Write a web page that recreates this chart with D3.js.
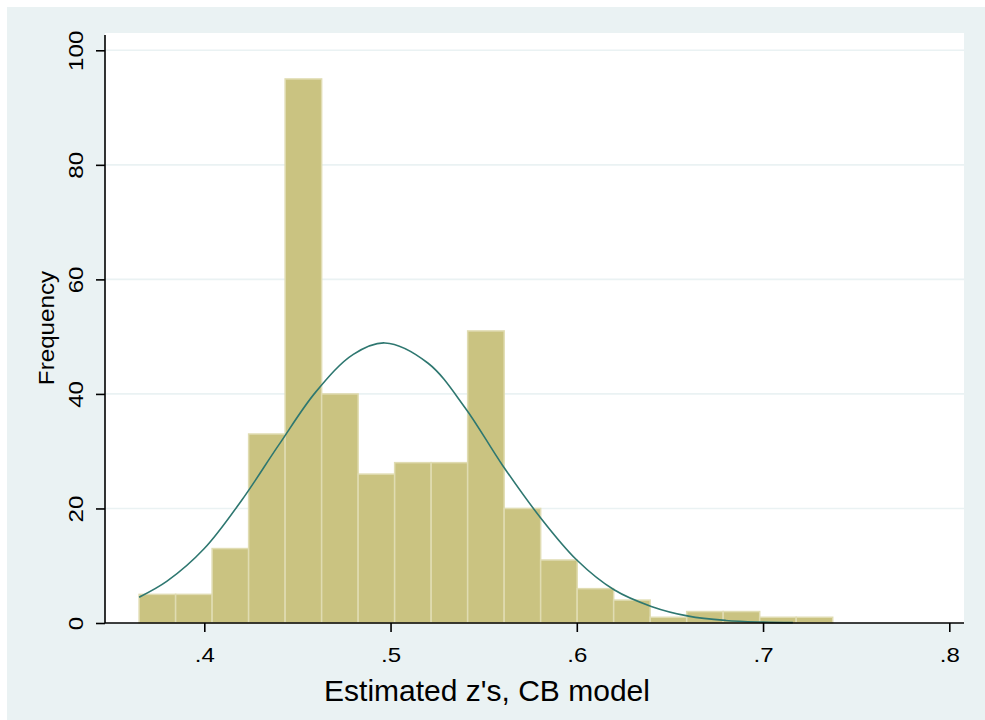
<!DOCTYPE html>
<html>
<head>
<meta charset="utf-8">
<script src="https://cdn.jsdelivr.net/npm/d3@7"></script>
<style>
  html, body { margin: 0; padding: 0; background: #fff; }
  text { font-family: "Liberation Sans", Arial, sans-serif; fill: #000; }
</style>
</head>
<body>
<div id="chart"></div>
<script>
// histogram bins (edges) and counts
const binEdges = [0.3650, 0.3846, 0.4042, 0.4238, 0.4434, 0.4630, 0.4826, 0.5022, 0.5218, 0.5414,
  0.5610, 0.5806, 0.6002, 0.6198, 0.6394, 0.6590, 0.6786, 0.6982, 0.7178, 0.7374]
const counts = [5, 5, 13, 33, 95, 40, 26, 28, 28, 51, 20, 11, 6, 4, 1, 2, 2, 1, 1]

// normal density overlay
const curveX = [0.365, 0.38, 0.40, 0.42, 0.44, 0.46, 0.48, 0.497, 0.52, 0.54,
  0.56, 0.58, 0.60, 0.62, 0.64, 0.66, 0.68, 0.70, 0.716]
const curveY = [4.5, 7.3, 13.0, 21.4, 31.1, 40.4, 46.9, 48.9, 45.4, 37.6,
  27.6, 18.6, 11.0, 5.8, 2.9, 1.2, 0.45, 0.16, 0.06]

const xTicks = [0.4, 0.5, 0.6, 0.7, 0.8]
const yTicks = [0, 20, 40, 60, 80, 100]
const xTitle = "Estimated z's, CB model"
const yTitle = "Frequency"

const W = 985, H = 720
const plot = { left: 105, right: 964, top: 33, bottom: 623 }

const svg = d3.select("#chart").append("svg")
  .attr("width", W)
  .attr("height", H)

svg.append("rect")
  .attr("x", 7).attr("y", 7)
  .attr("width", W - 7).attr("height", H - 7)
  .attr("fill", "#eaf2f3")

svg.append("rect")
  .attr("x", plot.left).attr("y", plot.top)
  .attr("width", plot.right - plot.left).attr("height", plot.bottom - plot.top)
  .attr("fill", "#fff")

const x = d3.scaleLinear().domain([0.4, 0.8]).range([204.3, 949.3])
const y = d3.scaleLinear().domain([0, 100]).range([plot.bottom, 50.3])

// gridlines
svg.append("g")
  .selectAll("line")
  .data(yTicks.filter(d => d > 0))
  .enter()
  .append("line")
  .attr("x1", plot.left)
  .attr("x2", plot.right)
  .attr("y1", d => y(d))
  .attr("y2", d => y(d))
  .attr("stroke", "#eaf2f3")
  .attr("stroke-width", 1.6)

// bars
const bins = counts.map((c, i) => ({ x0: binEdges[i], x1: binEdges[i + 1], n: c }))
svg.append("g")
  .selectAll("rect")
  .data(bins)
  .enter()
  .append("rect")
  .attr("x", d => x(d.x0))
  .attr("y", d => y(d.n))
  .attr("width", d => x(d.x1) - x(d.x0))
  .attr("height", d => y(0) - y(d.n))
  .attr("fill", "#cac381")
  .attr("stroke", "#e0dcb2")
  .attr("stroke-width", 1.5)

// normal curve
const line = d3.line()
  .x(d => x(d[0]))
  .y(d => y(d[1]))
  .curve(d3.curveCatmullRom)

svg.append("path")
  .datum(curveX.map((v, i) => [v, curveY[i]]))
  .attr("d", line)
  .attr("fill", "none")
  .attr("stroke", "#2e7770")
  .attr("stroke-width", 1.6)

// axes
const xAxis = svg.append("g")
  .attr("transform", `translate(0,${plot.bottom})`)
  .call(d3.axisBottom(x).tickValues(xTicks).tickSize(9).tickFormat(d => d3.format(".1f")(d).replace(/^0/, "")))
xAxis.select(".domain").attr("d", `M${plot.left},0H${plot.right}`).attr("stroke", "#000").attr("stroke-width", 1.6)
xAxis.selectAll(".tick line").attr("stroke", "#000").attr("stroke-width", 1.6)
xAxis.selectAll(".tick text")
  .attr("y", 0)
  .attr("dy", 0)
  .attr("transform", "translate(0,39) scale(1.2,1)")
  .style("font-size", "20px")
  .style("font-family", "Liberation Sans, Arial, sans-serif")
  .attr("fill", "#000")

const yAxis = svg.append("g")
  .attr("transform", `translate(${plot.left},0)`)
  .call(d3.axisLeft(y).tickValues(yTicks).tickSize(9))
yAxis.select(".domain").attr("d", `M0,${plot.top + 2}V${plot.bottom}`).attr("stroke", "#000").attr("stroke-width", 1.6)
yAxis.selectAll(".tick line").attr("stroke", "#000").attr("stroke-width", 1.6)
yAxis.selectAll(".tick text")
  .attr("x", 0)
  .attr("dy", 0)
  .attr("transform", "translate(-22,0) rotate(-90) scale(1.15,1)")
  .attr("text-anchor", "middle")
  .style("font-size", "21px")
  .style("font-family", "Liberation Sans, Arial, sans-serif")
  .attr("fill", "#000")

// titles
svg.append("text")
  .attr("x", 487)
  .attr("y", 701)
  .attr("text-anchor", "middle")
  .style("font-size", "30px")
  .text(xTitle)

svg.append("text")
  .attr("transform", `translate(54,${(plot.top + plot.bottom) / 2}) rotate(-90) scale(1.1,1)`)
  .attr("text-anchor", "middle")
  .style("font-size", "22px")
  .text(yTitle)
</script>
</body>
</html>
